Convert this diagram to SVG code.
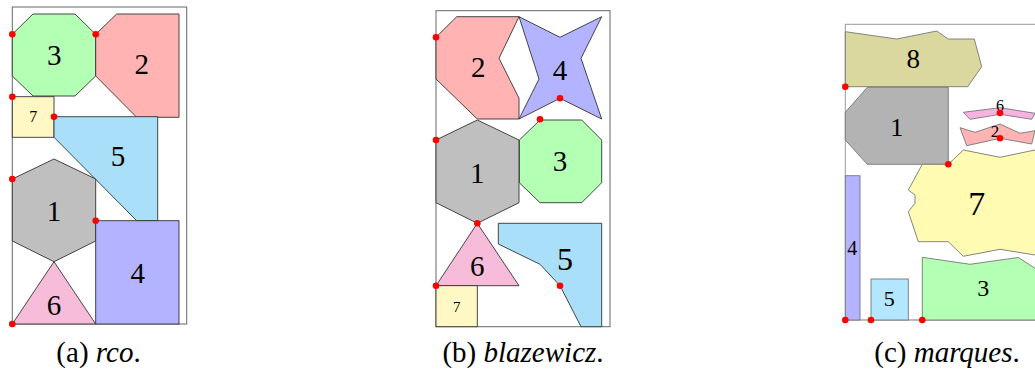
<svg xmlns="http://www.w3.org/2000/svg" width="1035" height="374" viewBox="0 0 1035 374">
<style>
.frame{fill:none;stroke:#666;stroke-width:1}
.sh{stroke:#333;stroke-width:0.9;stroke-linejoin:miter}
.shc{stroke:#777;stroke-width:0.9}
.lbl{text-anchor:middle;fill:#000}
.cap{font-size:29px;text-anchor:middle;fill:#000}
.dot{fill:#ff0000}
.green{fill:#b3ffb3}.red{fill:#ffb3b3}.yel{fill:#fff8c4}.lblue{fill:#a9dff8}.gray{fill:#bfbfbf}.blue{fill:#b3b3ff}.pink{fill:#f7bcd9}
</style>
<rect width="1035" height="374" fill="#fff"/>
<g font-family="'Liberation Serif', 'Times New Roman', 'DejaVu Serif', serif">

<!-- Panel a: rco -->
<g id="panel-a">
<rect class="frame" x="12.3" y="7" width="174.4" height="317"/>
<g id="a-3"><polygon class="sh green" points="33,14 75,14 95.7,34.3 95.7,76 75,96 33,96 12.3,76 12.3,34.3"/><text class="lbl" x="54.3" y="65.1" font-size="29">3</text></g>
<g id="a-2"><polygon class="sh red" points="95.7,34.3 116.7,14 179,14 179,117.3 136.7,117.3 95.7,76"/><text class="lbl" x="141.7" y="74.3" font-size="29">2</text></g>
<g id="a-7"><rect class="sh yel" x="12.3" y="96.7" width="41.7" height="40.6"/><text class="lbl" x="33.3" y="122.4" font-size="16">7</text></g>
<g id="a-5"><polygon class="sh lblue" points="54,116.7 157.7,116.7 157.7,220.7 136.7,220.7 54,137.3"/><text class="lbl" x="118" y="165.8" font-size="29">5</text></g>
<g id="a-1"><polygon class="sh gray" points="54,159 95.7,179 95.7,241 54,261.7 12.3,241 12.3,179"/><text class="lbl" x="54" y="220.8" font-size="29">1</text></g>
<g id="a-4"><rect class="sh blue" x="95.7" y="220.7" width="83.3" height="103.3"/><text class="lbl" x="137.7" y="282.8" font-size="29">4</text></g>
<g id="a-6"><polygon class="sh pink" points="54,261.7 95.7,324 12.3,324"/><text class="lbl" x="54" y="314.8" font-size="29">6</text></g>
<g id="a-dots">
<circle class="dot" cx="12.3" cy="34.3" r="3.3"/><circle class="dot" cx="95.7" cy="34.3" r="3.3"/>
<circle class="dot" cx="12.3" cy="96.7" r="3.3"/><circle class="dot" cx="54" cy="116.7" r="3.3"/>
<circle class="dot" cx="12.3" cy="179" r="3.3"/><circle class="dot" cx="95.7" cy="220.7" r="3.3"/>
<circle class="dot" cx="12.3" cy="324" r="3.3"/>
</g>
</g>

<!-- Panel b: blazewicz -->
<g id="panel-b">
<rect class="frame" x="436" y="10.7" width="174" height="316"/>
<g id="b-2"><polygon class="sh red" points="456.7,16.7 519,16.7 499,58.3 519,98.3 519,119 477.3,119 436,79 436,37.3"/><text class="lbl" x="478.3" y="76.5" font-size="29">2</text></g>
<g id="b-4"><polygon class="sh blue" points="519,16.7 560,37.3 601.7,16.7 581,58.3 601.7,119 560,98.3 519,119 539,79"/><text class="lbl" x="560" y="79.8" font-size="29">4</text></g>
<g id="b-3"><polygon class="sh green" points="540,120 581.7,120 601.7,140 601.7,182.7 581.7,202.7 540,202.7 519.3,182.7 519.3,140"/><text class="lbl" x="560" y="170.8" font-size="29">3</text></g>
<g id="b-1"><polygon class="sh gray" points="477.3,120 519,140 519,202.7 477.3,223.3 436,202.7 436,140"/><text class="lbl" x="477.3" y="182.8" font-size="29">1</text></g>
<g id="b-6"><polygon class="sh pink" points="477.3,223.3 519,285.7 436,285.7"/><text class="lbl" x="477.3" y="275.8" font-size="29">6</text></g>
<g id="b-7"><rect class="sh yel" x="436" y="285.7" width="41.3" height="41"/><text class="lbl" x="456.7" y="311.8" font-size="15">7</text></g>
<g id="b-5"><polygon class="sh lblue" points="498.3,223.3 601.7,223.3 601.7,326.7 581,326.7 560,285.7 540,264.3 498.3,244"/><text class="lbl" x="565" y="270.3" font-size="32">5</text></g>
<g id="b-dots">
<circle class="dot" cx="436" cy="37.3" r="3.3"/><circle class="dot" cx="560" cy="98.3" r="3.3"/>
<circle class="dot" cx="540" cy="119.3" r="3.3"/><circle class="dot" cx="436" cy="140" r="3.3"/>
<circle class="dot" cx="477.3" cy="223.3" r="3.3"/><circle class="dot" cx="436" cy="285.7" r="3.3"/>
<circle class="dot" cx="560" cy="285.7" r="3.3"/>
</g>
</g>

<!-- Panel c: marques -->
<g id="panel-c">
<rect x="845.3" y="24.3" width="210" height="295.7" fill="none" stroke="#999" stroke-width="1"/>
<line x1="845.3" y1="320" x2="1035" y2="320" stroke="#bbb" stroke-width="2"/>
<g id="c-8"><polygon class="shc" fill="#dbd89f" points="845.3,31.7 896.7,39 936.7,31 948.3,39 974.3,39 981.7,66.7 967.7,86.7 845.3,86.7"/><text class="lbl" x="913.3" y="68.1" font-size="27">8</text></g>
<g id="c-1"><polygon class="shc" fill="#b3b3b3" points="867.3,87.3 948.3,87.3 948.3,164.3 867.3,164.3 845.3,140 845.3,112.3"/><text class="lbl" x="896.7" y="135.8" font-size="26">1</text></g>
<g id="c-6"><polygon class="shc" fill="#f7b3e0" points="963.3,112.3 1000,107.7 1035,113.3 1031.7,119.3 1000,114.3 970,119.3"/><text class="lbl" x="1000" y="110.7" font-size="16">6</text></g>
<g id="c-2"><polygon class="shc" fill="#ffb3b3" points="960,127.7 975,132.3 1000,124 1020,133.3 1035,130.7 1031.7,144 1000,138.3 966.7,145.7"/><text class="lbl" x="995" y="137.4" font-size="17">2</text></g>
<g id="c-7"><polygon class="shc" fill="#fffbb3" points="948.3,164.3 963.3,150 1000,157.3 1035,150 1040,150 1040,255 1035,255 1000,249.3 963.3,256.3 948.3,241.7 918.3,241.7 908.3,211.7 915,203.3 915,195 908.3,190 922.3,164.3"/><text class="lbl" x="976.7" y="214.5" font-size="34">7</text></g>
<g id="c-3"><polygon class="shc" fill="#b3ffb3" points="922.3,257.3 970,264.3 1018.3,257.5 1035,268.3 1040,270 1040,320 922.3,320"/><text class="lbl" x="983.3" y="296.1" font-size="24">3</text></g>
<g id="c-4"><rect class="shc" fill="#b3b3ff" x="845.3" y="175.7" width="14.7" height="144.3"/><text class="lbl" x="852.3" y="254.8" font-size="20">4</text></g>
<g id="c-5"><rect class="shc" fill="#b3e6ff" x="871" y="279" width="37.3" height="41"/><text class="lbl" x="889.3" y="306.4" font-size="22">5</text></g>
<g id="c-dots">
<circle class="dot" cx="845.3" cy="86.7" r="3.3"/><circle class="dot" cx="948.3" cy="164.3" r="3.3"/>
<circle class="dot" cx="1000" cy="113" r="3.3"/><circle class="dot" cx="1000" cy="138.3" r="3.3"/>
<circle class="dot" cx="845.3" cy="320" r="3.3"/><circle class="dot" cx="871" cy="320" r="3.3"/>
<circle class="dot" cx="922.3" cy="320" r="3.3"/>
</g>
</g>

<g id="captions">
<text class="cap" x="98.5" y="362">(a) <tspan font-style="italic">rco</tspan>.</text>
<text class="cap" x="523" y="362">(b) <tspan font-style="italic">blazewicz</tspan>.</text>
<text class="cap" x="947" y="362">(c) <tspan font-style="italic">marques</tspan>.</text>
</g>
</g>
</svg>
